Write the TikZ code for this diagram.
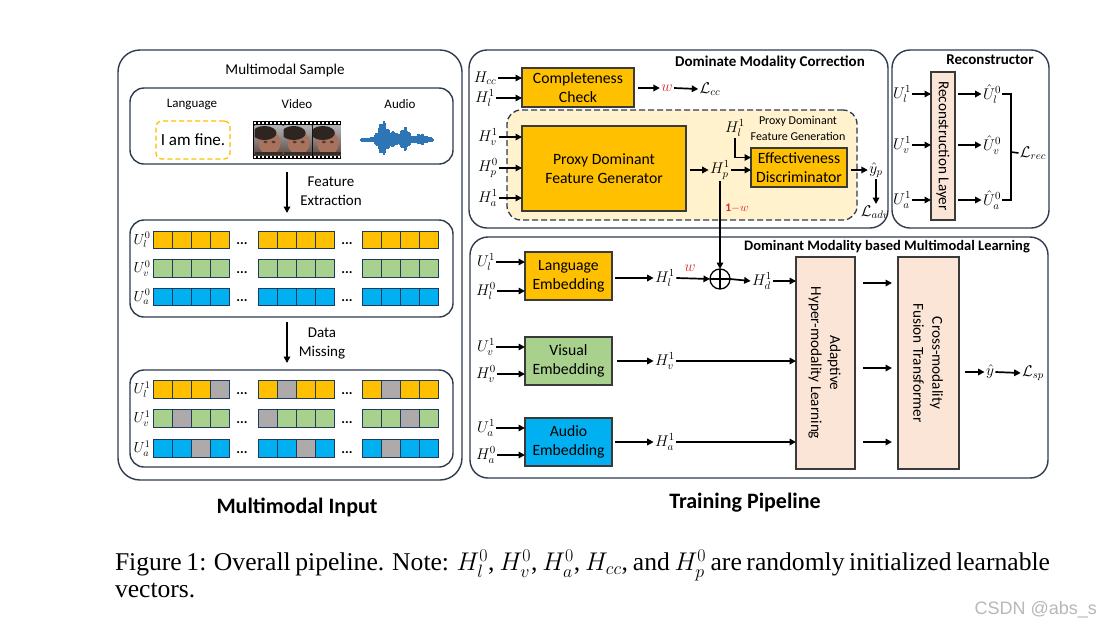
\documentclass[tikz,border=0pt]{standalone}
\usepackage{fix-cm}
\usepackage{fontspec}
\setmainfont{Carlito}
\newfontfamily\capfont{Liberation Serif}
\newfontfamily\wmfont{Liberation Sans}
\usetikzlibrary{arrows.meta,calc}
\definecolor{ylw}{HTML}{FFC000}
\definecolor{grn}{HTML}{A9D18E}
\definecolor{blu}{HTML}{00B0F0}
\definecolor{gry}{HTML}{AEAAAA}
\definecolor{pch}{HTML}{FBE5D6}
\definecolor{lylw}{HTML}{FFF2CC}
\definecolor{pnl}{HTML}{2E3B4E}
\definecolor{bdr}{HTML}{3A3A3A}
\definecolor{cbd}{HTML}{1F3A5F}
\definecolor{redw}{HTML}{D92B2B}
\definecolor{wav}{HTML}{2E75B6}
\definecolor{flmA}{HTML}{B4B4BA}
\definecolor{flmB}{HTML}{5A4A42}
\definecolor{skin}{HTML}{A8735E}
\definecolor{hair}{HTML}{2E2420}
\newcommand{\tokgrp}[3]{\foreach \cc [count=\k from 0] in {#3}{\draw[cellst, fill=\cc] ({#1+\k*19},{#2-8.75}) rectangle ++(19,17.5);}}
\begin{document}
\begin{tikzpicture}[x=1pt,y=-1pt,
  every node/.style={inner sep=0pt, outer sep=0pt},
  panel/.style={draw=pnl, line width=1.4pt},
  box/.style={draw=bdr, line width=1.2pt, align=center, font=\fontsize{15.7}{19}\selectfont},
  ml/.style={font=\fontsize{15.5}{17}\selectfont, inner sep=1.5pt},
  arr/.style={line width=1.7pt, -{Triangle[length=6.5pt,width=6.5pt]}},
  ln/.style={line width=1.6pt},
  cellst/.style={draw=cbd, line width=1pt},
  dotst/.style={font=\bfseries\fontsize{14}{16}\selectfont},
  ttl/.style={font=\bfseries\fontsize{15}{18}\selectfont},
  txt/.style={font=\fontsize{15}{19}\selectfont, align=center},
  rtxt/.style={rotate=-90, align=center, font=\fontsize{15.2}{19}\selectfont}]
\useasboundingbox (0,0) rectangle (1101,630);
\fill[white] (0,0) rectangle (1101,630);

% ================= left panel =================
\node[panel, rounded corners=22pt, minimum width=344pt, minimum height=430pt] (pin) at (290,265) {};
\node[txt] (msam) at (285,70) {Multimodal Sample};
\node[panel, rounded corners=14pt, minimum width=323pt, minimum height=76pt] (sbox) at (291.5,126) {};
\node[font=\fontsize{13}{15}\selectfont] (tlang) at (192,104) {Language};
\node[font=\fontsize{13}{15}\selectfont] (tvid) at (297,104) {Video};
\node[font=\fontsize{13}{15}\selectfont] (taud) at (400,104) {Audio};
\node[draw=ylw, dash pattern=on 5pt off 3pt, line width=1.3pt, rounded corners=6pt, minimum width=74pt, minimum height=38pt, font=\fontsize{17}{20}\selectfont] (fine) at (193,140) {I am fine.};
% film strip
\node[fill=black, minimum width=88pt, minimum height=38pt] (film) at (297,140) {};
\foreach \k in {0,1,2}{
  \pgfmathsetmacro\fx{254.5+\k*29.2}
  \begin{scope}
  \clip (\fx,125) rectangle ({\fx+28},155);
  \shade[top color=flmA, bottom color=flmB] (\fx,125) rectangle ({\fx+28},155);
  \fill[skin] ({\fx+15},143) ellipse (11 and 12);
  \fill[hair] ({\fx+10},133) ellipse (12 and 7);
  \fill[hair!70!skin] ({\fx+11},142) ellipse (2 and 1.3);
  \fill[hair!70!skin] ({\fx+19},142) ellipse (2 and 1.3);
  \fill[flmB!60!black] (\fx,152) rectangle ({\fx+28},155);
  \end{scope}
}
\foreach \s in {0,...,21}{
  \fill[white] ({254+\s*4},122) rectangle ++(2,1.6);
  \fill[white] ({254+\s*4},156.4) rectangle ++(2,1.6);
}
% waveform
\node[minimum width=72pt, minimum height=40pt] (wave) at (397,140) {};
\foreach \i in {0,...,72}{
  \pgfmathsetmacro\xx{361+\i}
  \pgfmathsetmacro\aa{2.5+17*exp(-(\i-22)*(\i-22)/36)+11*exp(-(\i-44)*(\i-44)/25)+6*exp(-(\i-33)*(\i-33)/16)+4*exp(-(\i-60)*(\i-60)/36)}
  \pgfmathsetmacro\rr{0.55+0.45*abs(sin(\i*137.5))}
  \draw[wav, line width=1.1pt] (\xx,{140-\aa*\rr}) -- (\xx,{140+0.8*\aa*\rr});
}
% feature extraction
\coordinate (fex) at (287,0);
\node[panel, rounded corners=14pt, minimum width=323pt, minimum height=97pt] (tb0) at (291.5,268.5) {};
\draw[arr, shorten <=8pt, shorten >=7pt] (sbox.south -| fex) -- (tb0.north -| fex);
\node[txt] (tfe) at (331,191.5) {Feature\\Extraction};
\foreach \y/\c/\m in {240/ylw/l,268.5/grn/v,297/blu/a}{
  \node[ml, font=\fontsize{14.5}{16}\selectfont] (u0\m) at (142,\y) {$U_{\m}^{0}$};
  \foreach \gx in {153,258,362}{
    \foreach \kk in {0,...,3}{\draw[cellst, fill=\c] ({\gx+\kk*19},{\y-8.75}) rectangle ++(19,17.5);}
  }
  \node[dotst] (d1\m) at (242,{\y+4}) {...};
  \node[dotst] (d2\m) at (347,{\y+4}) {...};
}
% data missing
\node[panel, rounded corners=14pt, minimum width=323pt, minimum height=97pt] (tb1) at (291.5,418.5) {};
\draw[arr, shorten <=5pt, shorten >=7pt] (tb0.south -| fex) -- (tb1.north -| fex);
\node[txt] (tdm) at (322,343.5) {Data\\Missing};
\node[ml, font=\fontsize{14.5}{16}\selectfont] (u1l) at (142,389.5) {$U_{l}^{1}$};
\node[ml, font=\fontsize{14.5}{16}\selectfont] (u1v) at (142,418.5) {$U_{v}^{1}$};
\node[ml, font=\fontsize{14.5}{16}\selectfont] (u1a) at (142,448.5) {$U_{a}^{1}$};
\tokgrp{153}{389.5}{ylw,ylw,ylw,gry}
\tokgrp{258}{389.5}{ylw,gry,ylw,ylw}
\tokgrp{362}{389.5}{ylw,gry,ylw,ylw}
\tokgrp{153}{418.5}{grn,gry,grn,grn}
\tokgrp{258}{418.5}{gry,grn,grn,grn}
\tokgrp{362}{418.5}{grn,grn,gry,grn}
\tokgrp{153}{448.5}{blu,blu,gry,blu}
\tokgrp{258}{448.5}{blu,blu,gry,blu}
\tokgrp{362}{448.5}{blu,gry,blu,blu}
\foreach \y/\m in {389.5/l,418.5/v,448.5/a}{
  \node[dotst] (e1\m) at (242,{\y+4}) {...};
  \node[dotst] (e2\m) at (347,{\y+4}) {...};
}
\node[font=\bfseries\fontsize{22}{26}\selectfont] (tin) at (297,507) {Multimodal Input};

% ================= DMC panel =================
\node[panel, rounded corners=18pt, minimum width=419pt, minimum height=178pt] (pdmc) at (678.5,139) {};
\node[ttl] (tdmc) at (770,62) {Dominate Modality Correction};
\node[box, fill=ylw, minimum width=112pt, minimum height=39pt] (cc) at (578,87.5) {Completeness\\Check};
\node[ml] (hcc) at (485,78) {$H_{cc}$};
\node[ml] (hl1a) at (485,98) {$H_{l}^{1}$};
\draw[arr] (hcc.east) -- (hcc.east -| cc.west);
\draw[arr] (hl1a.east) -- (hl1a.east -| cc.west);
\node[ml, text=redw] (wa) at (667,88) {$w$};
\node[ml] (lcc) at (710,89) {$\mathcal{L}_{cc}$};
\draw[arr, shorten <=4pt] (cc.east |- wa.west) -- (wa.west);
\draw[arr] (wa.east) -- (lcc.west);

\node[draw=pnl, dash pattern=on 6pt off 3pt, line width=1.3pt, fill=lylw, rounded corners=14pt, minimum width=350pt, minimum height=110pt] (pdfg) at (682,165) {};
\node[font=\fontsize{12}{16}\selectfont, align=center] (tpdfg) at (798,128) {Proxy Dominant\\Feature Generation};
\node[box, fill=ylw, minimum width=164pt, minimum height=85pt] (gen) at (604,168.5) {Proxy Dominant\\Feature Generator};
\node[ml] (hv1a) at (488,137) {$H_{v}^{1}$};
\node[ml] (hp0) at (488,168) {$H_{p}^{0}$};
\node[ml] (ha1a) at (488,198) {$H_{a}^{1}$};
\draw[arr] (hv1a.east) -- (hv1a.east -| gen.west);
\draw[arr] (hp0.east) -- (hp0.east -| gen.west);
\draw[arr] (ha1a.east) -- (ha1a.east -| gen.west);
\node[ml] (hp1) at (720,170) {$H_{p}^{1}$};
\draw[arr, shorten <=4pt] (gen.east |- hp1.west) -- (hp1.west);
\node[box, fill=ylw, minimum width=96pt, minimum height=39pt] (ed) at (799,167.5) {Effectiveness\\Discriminator};
\draw[arr] (hp1.east) -- (hp1.east -| ed.west);
\node[ml] (hl1b) at (735,128) {$H_{l}^{1}$};
\draw[arr] (hl1b.south) |- ($(ed.west)+(0,-10)$);
\node[ml] (yp) at (876,170) {$\hat{y}_{p}$};
\draw[arr, shorten <=4pt] (ed.east |- yp.west) -- (yp.west);
\node[ml] (ladv) at (875,212) {$\mathcal{L}_{adv}$};
\draw[arr] (yp.south) -- (yp.south |- ladv.north);
\node[font=\fontsize{11.5}{13}\selectfont, text=redw] (omw) at (737,208) {$\mathbf{1-}w$};

% ================= Reconstructor =================
\node[panel, rounded corners=18pt, minimum width=157pt, minimum height=178pt] (prec) at (970.5,139) {};
\node[ttl] (trec) at (990,60) {Reconstructor};
\node[box, fill=pch, minimum width=24pt, minimum height=148pt] (rl) at (943,146) {};
\node[rtxt] (rlt) at (rl.center) {Reconstruction Layer};
\node[ml] (ul1r) at (902,94) {$U_{l}^{1}$};
\node[ml] (uv1r) at (902,145) {$U_{v}^{1}$};
\node[ml] (ua1r) at (902,200) {$U_{a}^{1}$};
\draw[arr] (ul1r.east) -- (ul1r.east -| rl.west);
\draw[arr] (uv1r.east) -- (uv1r.east -| rl.west);
\draw[arr] (ua1r.east) -- (ua1r.east -| rl.west);
\node[ml] (uhl) at (992,94) {$\hat{U}_{l}^{0}$};
\node[ml] (uhv) at (992,145) {$\hat{U}_{v}^{0}$};
\node[ml] (uha) at (992,200) {$\hat{U}_{a}^{0}$};
\draw[arr, shorten <=3pt] (rl.east |- uhl.west) -- (uhl.west);
\draw[arr, shorten <=3pt] (rl.east |- uhv.west) -- (uhv.west);
\draw[arr, shorten <=3pt] (rl.east |- uha.west) -- (uha.west);
\coordinate (bk) at (1011,152);
\node[ml] (lrec) at (1033,153) {$\mathcal{L}_{rec}$};
\draw[ln] (uhl.east) -| (bk |- uha.east) -- (uha.east);
\draw[ln] (bk) -- (lrec.west);

% ================= DMML panel =================
\node[panel, rounded corners=18pt, minimum width=578pt, minimum height=241pt] (pdml) at (759,357.5) {};
\node[font=\bfseries\fontsize{14.5}{17}\selectfont] (tdml) at (887,247) {Dominant Modality based Multimodal Learning};
\node[box, fill=ylw, minimum width=87pt, minimum height=48pt] (le) at (568.5,276) {Language\\Embedding};
\node[box, fill=grn, minimum width=87pt, minimum height=48pt] (ve) at (568.5,361) {Visual\\Embedding};
\node[box, fill=blu, minimum width=87pt, minimum height=48pt] (ae) at (568.5,442) {Audio\\Embedding};
\node[ml] (ul1b) at (486,262) {$U_{l}^{1}$};
\node[ml] (hl0) at (486,291) {$H_{l}^{0}$};
\node[ml] (uv1b) at (486,347) {$U_{v}^{1}$};
\node[ml] (hv0) at (486,374) {$H_{v}^{0}$};
\node[ml] (ua1b) at (486,428) {$U_{a}^{1}$};
\node[ml] (ha0) at (486,455) {$H_{a}^{0}$};
\foreach \n/\b in {ul1b/le,hl0/le,uv1b/ve,hv0/ve,ua1b/ae,ha0/ae}{
  \draw[arr] (\n.east) -- (\n.east -| \b.west);
}
\node[box, fill=pch, minimum width=59pt, minimum height=212pt] (ahl) at (825.5,363) {};
\node[rtxt] (ahlt) at (824.5,363) {Adaptive\\Hyper-modality Learning};
\node[box, fill=pch, minimum width=61pt, minimum height=212pt] (cft) at (928.5,363) {};
\node[rtxt] (cftt) at (928,363) {Cross-modality\\Fusion Transformer};
\node[ml] (hl1) at (665,278) {$H_{l}^{1}$};
\node[draw, circle, line width=1.3pt, minimum size=20pt,
  path picture={\draw[line width=1.1pt] (path picture bounding box.north) -- (path picture bounding box.south) (path picture bounding box.west) -- (path picture bounding box.east);}] (op) at (720,279) {};
\node[ml] (hd1) at (762,281) {$H_{d}^{1}$};
\node[ml] (hv1) at (665,361) {$H_{v}^{1}$};
\node[ml] (ha1) at (665,442) {$H_{a}^{1}$};
\node[ml, text=redw] (wb) at (690,268) {$w$};
\draw[arr, shorten <=3pt] (le.east |- hl1.west) -- (hl1.west);
\draw[arr] (hl1.east) -- (op.west);
\draw[arr] (op.east) -- (hd1.west);
\draw[arr] (hd1.east) -- (hd1.east -| ahl.west);
\draw[arr, shorten <=5pt] (ve.east |- hv1.west) -- (hv1.west);
\draw[arr] (hv1.east) -- (hv1.east -| ahl.west);
\draw[arr, shorten <=3pt] (ae.east |- ha1.west) -- (ha1.west);
\draw[arr] (ha1.east) -- (ha1.east -| ahl.west);
\draw[arr] (hp1.south) -- (op.north);
\coordinate (r1) at (0,283);
\coordinate (r2) at (0,368);
\coordinate (r3) at (0,442);
\draw[arr, shorten <=8pt, shorten >=6pt] (ahl.east |- r1) -- (cft.west |- r1);
\draw[arr, shorten <=8pt, shorten >=6pt] (ahl.east |- r2) -- (cft.west |- r2);
\draw[arr, shorten <=8pt, shorten >=6pt] (ahl.east |- r3) -- (cft.west |- r3);
\node[ml] (yh) at (990,372) {$\hat{y}$};
\node[ml] (lsp) at (1033,373) {$\mathcal{L}_{sp}$};
\draw[arr, shorten <=6pt] (cft.east |- yh.west) -- (yh.west);
\draw[arr] (yh.east) -- (lsp.west);
\node[font=\bfseries\fontsize{22}{26}\selectfont] (ttp) at (745,503) {Training Pipeline};

% ================= caption =================
\node[anchor=north west, text width=935pt, align=justify, font=\capfont\fontsize{25.6}{27}\selectfont] (cap) at (115,550) {Figure 1: Overall pipeline. Note: $H_l^0$, $H_v^0$, $H_a^0$, $H_{cc}$, and $H_p^0$ are randomly initialized learnable vectors.};
\node[anchor=east, text=black!28, font=\wmfont\fontsize{18}{20}\selectfont] (wm) at (1097,610) {CSDN @abs\_s};
\end{tikzpicture}
\end{document}
